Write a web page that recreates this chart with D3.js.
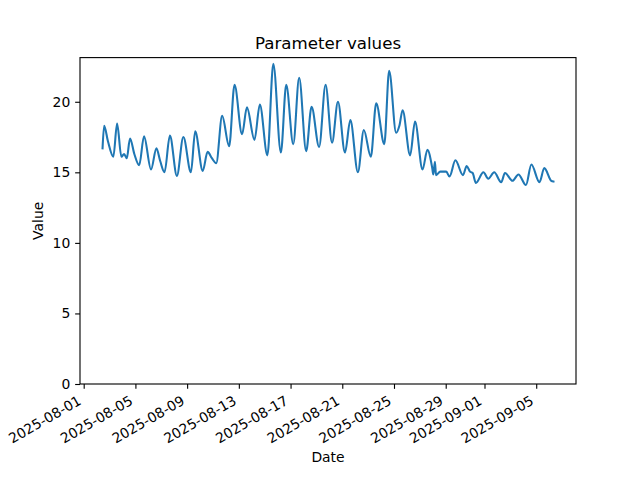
<!DOCTYPE html>
<html>
<head>
<meta charset="utf-8">
<script src="https://cdn.jsdelivr.net/npm/d3@7"></script>
<style>
  body { margin: 0; background: #fff; }
  svg { display: block; font-family: "DejaVu Sans", sans-serif; }
</style>
</head>
<body>
<svg id="chart" width="640" height="480"></svg>
<script>
const chartTitle = "Parameter values";
const xAxisLabel = "Date";
const yAxisLabel = "Value";

const dates = [
  "2025-08-02 11:00","2025-08-02 14:00","2025-08-02 21:00","2025-08-03 07:00","2025-08-03 14:00",
  "2025-08-03 22:00","2025-08-04 03:00","2025-08-04 08:00","2025-08-04 14:00","2025-08-04 22:00",
  "2025-08-05 07:00","2025-08-05 16:00","2025-08-06 05:00","2025-08-06 15:00","2025-08-06 22:00",
  "2025-08-07 06:00","2025-08-07 16:00","2025-08-08 05:00","2025-08-08 17:00","2025-08-09 07:00",
  "2025-08-09 15:00","2025-08-10 05:00","2025-08-10 14:00","2025-08-10 22:00","2025-08-11 06:00",
  "2025-08-11 17:00","2025-08-12 06:00","2025-08-12 16:00","2025-08-13 06:00","2025-08-13 15:00",
  "2025-08-14 05:00","2025-08-14 15:00","2025-08-15 05:00","2025-08-15 16:00","2025-08-16 06:00",
  "2025-08-16 16:00","2025-08-17 05:00","2025-08-17 16:00","2025-08-18 05:00","2025-08-18 15:00",
  "2025-08-19 05:00","2025-08-19 17:00","2025-08-20 05:00","2025-08-20 16:00","2025-08-21 05:00",
  "2025-08-21 15:00","2025-08-22 05:00","2025-08-22 16:00","2025-08-23 05:00","2025-08-23 15:00",
  "2025-08-24 06:00","2025-08-24 15:00","2025-08-25 04:00","2025-08-25 10:00","2025-08-25 16:00",
  "2025-08-26 06:00","2025-08-26 15:00","2025-08-27 05:00","2025-08-27 14:00","2025-08-27 23:00",
  "2025-08-28 01:00","2025-08-28 04:00","2025-08-28 06:00","2025-08-28 14:00","2025-08-29 01:00",
  "2025-08-29 07:00","2025-08-29 18:00","2025-08-30 08:00","2025-08-30 15:00","2025-08-30 21:00",
  "2025-08-31 02:00","2025-08-31 08:00","2025-08-31 22:00","2025-09-01 07:00","2025-09-01 18:00",
  "2025-09-02 07:00","2025-09-02 14:00","2025-09-03 04:00","2025-09-03 15:00","2025-09-04 05:00",
  "2025-09-04 15:00","2025-09-05 06:00","2025-09-05 15:00","2025-09-06 04:00","2025-09-06 08:00"
];
const values = [
  16.7, 18.3, 17.2, 16.1, 18.45,
  16.1, 16.3, 16.0, 17.4, 16.3,
  15.5, 17.55, 15.2, 16.7, 15.8,
  15.0, 17.6, 14.75, 17.5, 15.0,
  17.9, 15.1, 16.45, 16.0, 15.65,
  19.0, 16.85, 21.2, 17.7, 19.6,
  17.3, 19.8, 16.2, 22.7, 16.4,
  21.2, 17.0, 21.7, 16.5, 19.65,
  16.8, 21.2, 17.1, 20.0, 16.4,
  18.7, 15.0, 18.0, 16.1, 19.9,
  17.0, 22.2, 17.8, 18.3, 19.4,
  16.2, 18.6, 15.2, 16.6, 15.3,
  14.85, 15.75, 14.8, 15.05, 15.05,
  14.7, 15.85, 14.8, 15.45, 15.05,
  14.95, 14.25, 15.0, 14.55, 15.0,
  14.3, 14.95, 14.4, 14.85, 14.1,
  15.55, 14.3, 15.3, 14.4, 14.35
];
const xTickDates = ["2025-08-01","2025-08-05","2025-08-09","2025-08-13","2025-08-17",
  "2025-08-21","2025-08-25","2025-08-29","2025-09-01","2025-09-05"];
const yTickValues = [0, 5, 10, 15, 20];

const parseTime = d3.timeParse("%Y-%m-%d %H:%M");
const parseDay = d3.timeParse("%Y-%m-%d");
const fmtDay = d3.timeFormat("%Y-%m-%d");
const data = dates.map((d, i) => ({ t: parseTime(d), v: values[i] }));

const W = 640, H = 480;
const m = { left: 80, right: 576, top: 57.6, bottom: 384 };
const svg = d3.select("#chart");

const tExt = d3.extent(data, d => d.t);
const span = tExt[1] - tExt[0];
const x = d3.scaleTime()
  .domain([new Date(+tExt[0] - span * 0.05), new Date(+tExt[1] + span * 0.05)])
  .range([m.left, m.right]);
const vMax = d3.max(values), vMin = d3.min(values);
const y = d3.scaleLinear()
  .domain([0, vMax + 0.05 * (vMax - vMin)])
  .range([m.bottom, m.top]);

const fs = 13.9;

// line
const line = d3.line().x(d => x(d.t)).y(d => y(d.v)).curve(d3.curveMonotoneX);
svg.append("path").datum(data)
  .attr("d", line)
  .attr("fill", "none")
  .attr("stroke", "#1f77b4")
  .attr("stroke-width", 2.08)
  .attr("stroke-linejoin", "round")
  .attr("stroke-linecap", "square");

// x axis
const xAxis = d3.axisBottom(x)
  .tickValues(xTickDates.map(parseDay))
  .tickFormat(fmtDay)
  .tickSize(4.86).tickPadding(4.86);
const gx = svg.append("g").attr("transform", `translate(0,${m.bottom})`).call(xAxis);
gx.select(".domain").remove();
gx.selectAll(".tick line").attr("stroke", "#000").attr("stroke-width", 1.11);
gx.selectAll(".tick text")
  .attr("font-size", fs)
  .attr("font-family", "DejaVu Sans")
  .attr("fill", "#000")
  .attr("text-anchor", "end")
  .attr("y", 0).attr("dy", 0)
  .attr("transform", "translate(-2,19.5) rotate(-30)");

// y axis
const yAxis = d3.axisLeft(y).tickValues(yTickValues).tickFormat(d3.format("d"))
  .tickSize(4.86).tickPadding(4.86);
const gy = svg.append("g").attr("transform", `translate(${m.left},0)`).call(yAxis);
gy.select(".domain").remove();
gy.selectAll(".tick line").attr("stroke", "#000").attr("stroke-width", 1.11);
gy.selectAll(".tick text")
  .attr("font-size", fs)
  .attr("font-family", "DejaVu Sans")
  .attr("fill", "#000");

// frame
svg.append("rect")
  .attr("x", m.left).attr("y", m.top)
  .attr("width", m.right - m.left).attr("height", m.bottom - m.top)
  .attr("fill", "none").attr("stroke", "#000").attr("stroke-width", 1.11);

// title & labels
svg.append("text").attr("x", (m.left + m.right) / 2).attr("y", 49)
  .attr("text-anchor", "middle").attr("font-size", 16.67).text(chartTitle);
svg.append("text").attr("x", (m.left + m.right) / 2).attr("y", 462)
  .attr("text-anchor", "middle").attr("font-size", fs).text(xAxisLabel);
svg.append("text")
  .attr("transform", `translate(43,${(m.top + m.bottom) / 2}) rotate(-90)`)
  .attr("text-anchor", "middle").attr("font-size", fs).text(yAxisLabel);
</script>
</body>
</html>
